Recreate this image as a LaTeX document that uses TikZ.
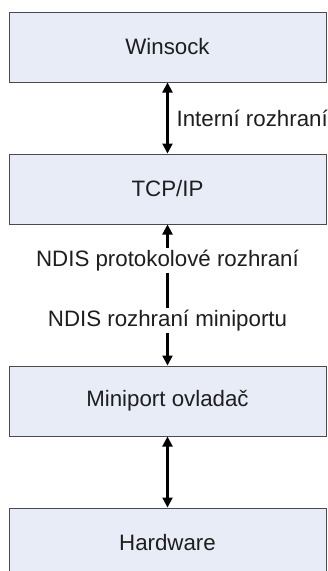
\documentclass[tikz,border=0pt]{standalone}
\usepackage{fontspec}
\setmainfont{Liberation Sans}
\usepackage{tikz}
\usetikzlibrary{arrows.meta,positioning}
\usepackage{xcolor}
\definecolor{boxfill}{HTML}{E7ECF7}
\definecolor{boxline}{HTML}{4A4A4A}
\definecolor{txt}{HTML}{1E1E1E}
\tikzset{layerbox/.style={draw=boxline,fill=boxfill,line width=1pt,minimum width=317pt,minimum height=70pt,inner sep=0pt,font=\fontsize{22.3}{26}\selectfont,text=txt}, link/.style={line width=2.2pt,{Triangle[length=10pt,width=10pt]}-{Triangle[length=10pt,width=10pt]}}, linknote/.style={font=\fontsize{22.3}{26}\selectfont,text=txt,inner sep=2pt}}

\begin{document}
\begin{tikzpicture}[x=1pt,y=1pt,node distance=71pt]
\useasboundingbox (0,0) rectangle (328,-571);
\clip (0,0) rectangle (328,-571);
\node[layerbox] (winsock) at (167.5,-47) {Winsock};
\node[layerbox,below=of winsock] (tcpip) {TCP/IP};
\node[layerbox,below=141pt of tcpip] (miniport) {Miniport ovladač};
\node[layerbox,below=of miniport] (hw) {Hardware};
\draw[link] (winsock) -- node[linknote,right,xshift=6pt] {Interní rozhraní} (tcpip);
\draw[link] (tcpip) -- node[linknote,fill=white,pos=.255] {NDIS protokolové rozhraní} node[linknote,fill=white,pos=.68] {NDIS rozhraní miniportu} (miniport);
\draw[link] (miniport) -- (hw);
\end{tikzpicture}
\end{document}
